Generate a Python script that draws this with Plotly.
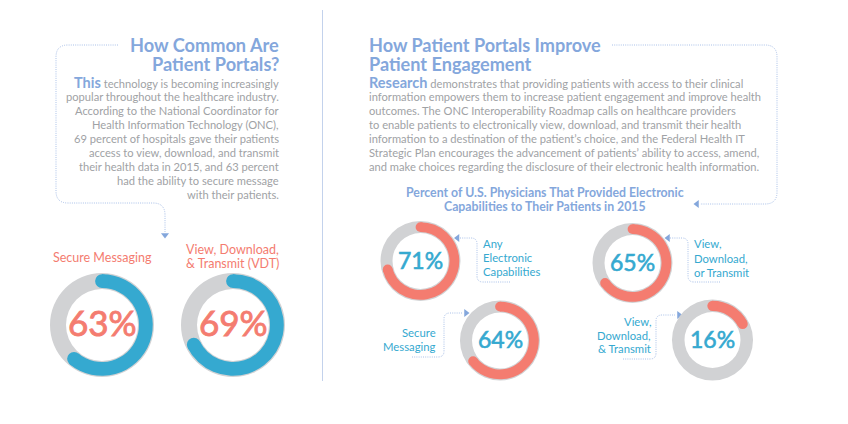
import math
import plotly.graph_objects as go

W, H = 848, 424
FONT = "Lato"
RED, CYAN, GRAY, BLUE, BODY, DOT = "#f47c70", "#35a9d0", "#d1d2d4", "#84a7dc", "#a0a2a5", "#a9c0e8"

# ---- data ----
donut_values = [63, 69, 71, 64, 65, 16]
donut_labels = ["63%", "69%", "71%", "64%", "65%", "16%"]
left_title = ["How Common Are", "Patient Portals?"]
left_body = ["technology is becoming increasingly",
             "popular throughout the healthcare industry.",
             "According to the National Coordinator for",
             "Health Information Technology (ONC),",
             "69 percent of hospitals gave their patients",
             "access to view, download, and transmit",
             "their health data in 2015, and 63 percent",
             "had the ability to secure message",
             "with their patients."]
right_title = ["How Patient Portals Improve", "Patient Engagement"]
right_body = ["demonstrates that providing patients with access to their clinical",
              "information empowers them to increase patient engagement and improve health",
              "outcomes. The ONC Interoperability Roadmap calls on healthcare providers",
              "to enable patients to electronically view, download, and transmit their health",
              "information to a destination of the patient\u2019s choice, and the Federal Health IT",
              "Strategic Plan encourages the advancement of patients\u2019 ability to access, amend,",
              "and make choices regarding the disclosure of their electronic health information."]
sub_title = ["Percent of U.S. Physicians That Provided Electronic", "Capabilities to Their Patients in 2015"]

# ---- layout of the donuts: cx, cy, outer r, inner r, arc colour, text colour, text size, text dy, arc trim ----
donut_style = [
    (102, 325, 52, 36, CYAN, RED, 35, -3, 2.0),
    (233, 325, 52, 36, CYAN, RED, 35, -3, 1.4),
    (420.5, 261, 40, 28, RED, CYAN, 23, -1.5, 0),
    (500, 340.5, 40, 28, RED, CYAN, 23, -1.5, -0.6),
    (632.5, 263, 40, 28, RED, CYAN, 23, -1.5, 0),
    (712.5, 340, 40.5, 28, RED, CYAN, 23, -1.5, -1.2),
]

fig = go.Figure()
annotations = []
shapes = []
INSET = {"left": -1.8, "right": 1.2, "center": 0}


def text(x, y, s, size, color, anchor="left", bold=False):
    annotations.append(dict(x=x + INSET[anchor], y=y, xref="x", yref="y",
                            text=f"<b>{s}</b>" if bold else s,
                            showarrow=False, xanchor=anchor, yanchor="middle",
                            font=dict(family=FONT, size=size, color=color)))


def dom(cx, cy, r):
    return dict(x=[(cx - r) / W, (cx + r) / W], y=[1 - (cy + r) / H, 1 - (cy - r) / H])


for v, lab, (cx, cy, ro, ri, col, tcol, ts, tdy, trim) in zip(donut_values, donut_labels, donut_style):
    fig.add_trace(go.Pie(values=[1], domain=dom(cx, cy, ro), hole=ri / ro, sort=False, textinfo="none",
                         marker=dict(colors=[GRAY], line=dict(width=0)), showlegend=False, hoverinfo="skip"))
    r2 = ro - 1.2
    ri2 = ri + 1
    drawn = v - trim
    fig.add_trace(go.Pie(values=[drawn, 100 - drawn], domain=dom(cx, cy, r2), hole=ri2 / r2, sort=False,
                         direction="clockwise", rotation=0, textinfo="none",
                         marker=dict(colors=[col, "rgba(0,0,0,0)"], line=dict(width=0)),
                         showlegend=False, hoverinfo="skip"))
    rm = (r2 + ri2) / 2
    cr = (r2 - ri2) / 2
    for a in (0, drawn / 100 * 2 * math.pi):
        px, py = cx + rm * math.sin(a), cy - rm * math.cos(a)
        shapes.append(dict(type="circle", xref="x", yref="y", x0=px - cr, x1=px + cr, y0=py - cr, y1=py + cr,
                           fillcolor=col, line=dict(width=0), layer="above"))
    stroke = 0.9 if ts > 30 else 0.6
    text(cx, cy + tdy, f'<span style="stroke:{tcol};stroke-width:{stroke}px">{lab}</span>', ts, tcol, "center")

# connectors
paths = [
    "M118 45 L68 45 Q56 45 56 57 L56 191 Q56 203 68 203 L153 203 Q165 203 165 215 L165 232",
    "M612 45 L765 45 Q777 45 777 57 L777 192 Q777 204 765 204 L700 204",
    "M460 238 L471 238 Q477 238 477 244 L477 276 Q477 282 483 282 L510 282",
    "M412 357 L438 357 Q444 357 444 351 L444 319 Q444 313 450 313 L462 313",
    "M670 238 L682 238 Q688 238 688 244 L688 276 Q688 282 694 282 L720 282",
    "M623 359 L650 359 Q656 359 656 353 L656 321 Q656 315 662 315 L675 315",
]
for p in paths:
    shapes.append(dict(type="path", path=p, xref="x", yref="y",
                       line=dict(color=DOT, width=1, dash="1px,1.2px")))
shapes.append(dict(type="line", x0=322.5, x1=322.5, y0=10, y1=381, xref="x", yref="y",
                   line=dict(color="#c3d2ec", width=1)))

fig.add_trace(go.Scatter(x=[165, 697, 457.5, 466, 668, 679], y=[235, 204, 238, 313, 238, 315],
                         mode="markers", showlegend=False, hoverinfo="skip",
                         marker=dict(size=7, color=BLUE, line=dict(width=0),
                                     symbol=["triangle-down", "triangle-left", "triangle-left",
                                             "triangle-right", "triangle-left", "triangle-right"])))

# left column
for y, s in zip([45, 64], left_title):
    text(279.5, y, s, 18.2, BLUE, "right", True)
for i, s in enumerate(left_body):
    if i == 0:
        s = f'<span style="font-size:14.5px;color:{BLUE}"><b>This</b></span> ' + s
    text(279.5, 82 + i * 14, s, 11.15, BODY, "right")

# right column
for y, s in zip([45, 64], right_title):
    text(369, y, s, 18.1, BLUE, "left", True)
for i, s in enumerate(right_body):
    if i == 0:
        s = f'<span style="font-size:14.5px;color:{BLUE}"><b>Research</b></span> ' + s
    text(369, 82 + i * 14, s, 11.15, BODY, "left")
for y, s in zip([192, 206], sub_title):
    text(544.5, y, s, 12.3, BLUE, "center", True)

# donut captions
text(102, 257, "Secure Messaging", 12.5, RED, "center")
text(232, 249, "View, Download,", 12.5, RED, "center")
text(232, 263, "&amp; Transmit (VDT)", 12.5, RED, "center")
for y, s in zip([243, 257, 271], ["Any", "Electronic", "Capabilities"]):
    text(483, y, s, 11.3, CYAN)
for y, s in zip([332, 346], ["Secure", "Messaging"]):
    text(437, y, s, 11.3, CYAN, "right")
for y, s in zip([243, 258, 272], ["View,", "Download,", "or Transmit"]):
    text(693.5, y, s, 11.3, CYAN)
for y, s in zip([321, 335, 348], ["View,", "Download,", "&amp; Transmit"]):
    text(651.5, y, s, 11.3, CYAN, "right")

fig.update_layout(width=W, height=H, margin=dict(l=0, r=0, t=0, b=0), paper_bgcolor="white",
                  plot_bgcolor="rgba(0,0,0,0)", showlegend=False, annotations=annotations, shapes=shapes,
                  xaxis=dict(range=[0, W], visible=False, domain=[0, 1], fixedrange=True),
                  yaxis=dict(range=[H, 0], visible=False, domain=[0, 1], fixedrange=True))
fig.write_html("out.html", config=dict(displayModeBar=False),
               post_script="document.body.style.margin='0';document.body.style.overflow='hidden';")
